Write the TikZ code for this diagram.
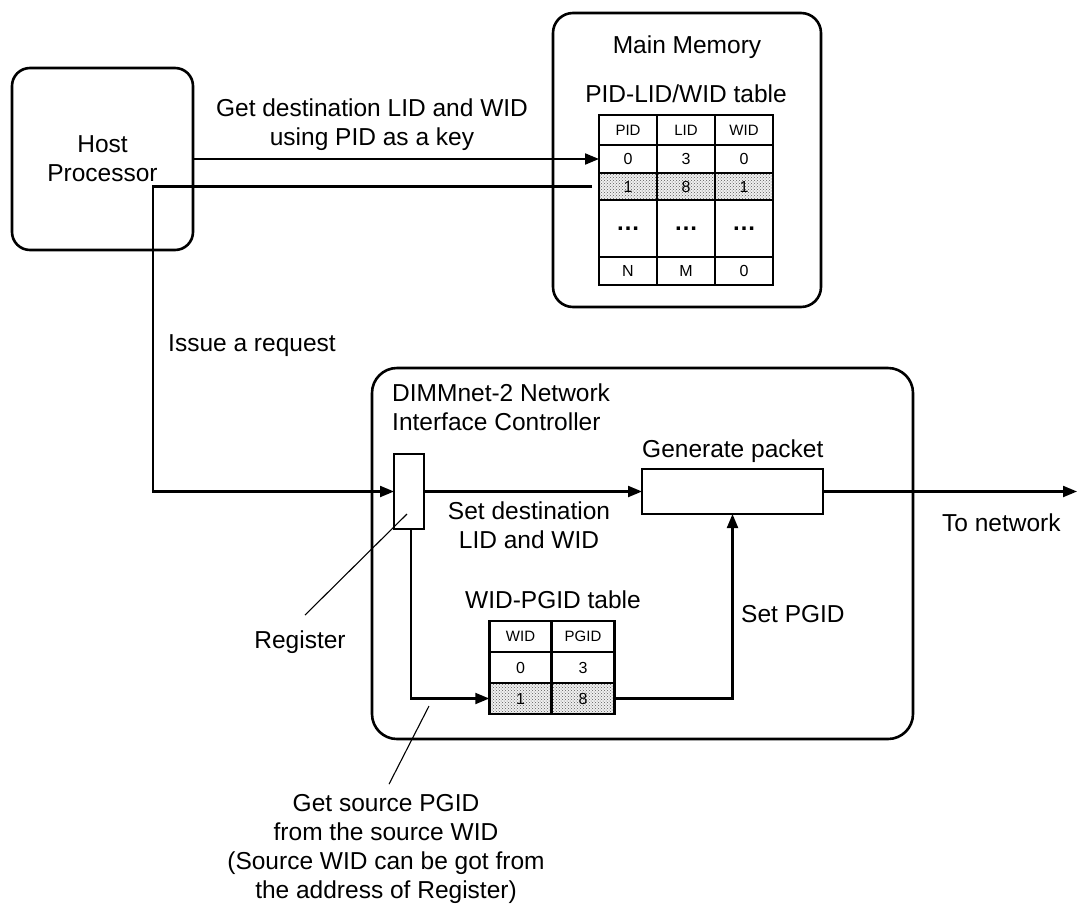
\documentclass[tikz,border=0pt]{standalone}
\usepackage{fontspec}
\setmainfont{Liberation Sans}
\usepackage{tikz}
\usetikzlibrary{shapes,arrows.meta,patterns}
\usetikzlibrary{positioning}
\newcommand{\tabheadfont}{\fontsize{15}{15}\selectfont}
\newcommand{\tabcellfont}{\fontsize{16}{16}\selectfont}
\newcommand{\tabdotsfont}{\fontsize{24}{24}\selectfont\bfseries}
\tikzstyle{block} = [rectangle, draw, line width=2.6pt, inner sep=0pt, outer sep=0pt]
\tikzstyle{block_rounded} = [rectangle, draw, line width=2.6pt, rounded corners=18pt,
    inner sep=0pt, outer sep=0pt]
\tikzstyle{cell} = [rectangle, draw, line width=2.6pt, inner sep=0pt, outer sep=0pt,
    minimum width=58pt, minimum height=28pt, font=\tabcellfont]
\tikzstyle{cell_shaded} = [cell, preaction={fill=gray!12}, pattern=crosshatch dots, pattern color=black!65]
\tikzstyle{txt} = [inner sep=0pt, align=center]
\tikzstyle{line} = [draw, -{Triangle[length=14pt,width=11pt]}, line width=2.1pt]
\tikzstyle{leader} = [draw, line width=1.1pt]

\begin{document}
\begin{tikzpicture}[x=1pt, y=-1pt, font=\fontsize{24.5}{29}\selectfont]
    \useasboundingbox (0,0) rectangle (1078,908);
    % Place nodes
    \node [block_rounded, minimum width=181pt, minimum height=182pt, align=center] (host) at (102.5,159) {Host\\Processor};
    \node [txt] (getdest) at (372,124.5) {Get destination LID and WID\\using PID as a key};

    \node [block_rounded, rounded corners=20pt, minimum width=268pt, minimum height=294pt] (mem) at (687,160) {};
    \node [txt, anchor=base] (memtitle) at (687,53) {Main Memory};
    \node [txt, anchor=base] (pidtitle) at (686,102) {PID-LID/WID table};

    % PID-LID/WID table
    \node [cell, minimum height=30pt, font=\tabheadfont] (pid_head) at (628,130) {PID};
    \node [cell, minimum height=30pt, font=\tabheadfont, right=0pt of pid_head] (lid_head) {LID};
    \node [cell, minimum height=30pt, font=\tabheadfont, right=0pt of lid_head] (wid_head) {WID};
    \node [cell, below=0pt of pid_head] (pid_r0) {0};
    \node [cell, below=0pt of lid_head] (lid_r0) {3};
    \node [cell, below=0pt of wid_head] (wid_r0) {0};
    \node [cell_shaded, minimum height=27pt, below=0pt of pid_r0] (pid_r1) {1};
    \node [cell_shaded, minimum height=27pt, below=0pt of lid_r0] (lid_r1) {8};
    \node [cell_shaded, minimum height=27pt, below=0pt of wid_r0] (wid_r1) {1};
    \node [cell, minimum height=57pt, font=\tabdotsfont, below=0pt of pid_r1] (pid_dots) {…};
    \node [cell, minimum height=57pt, font=\tabdotsfont, below=0pt of lid_r1] (lid_dots) {…};
    \node [cell, minimum height=57pt, font=\tabdotsfont, below=0pt of wid_r1] (wid_dots) {…};
    \node [cell, below=0pt of pid_dots] (pid_rn) {N};
    \node [cell, below=0pt of lid_dots] (lid_rn) {M};
    \node [cell, below=0pt of wid_dots] (wid_rn) {0};

    \node [txt, anchor=base west] (issue) at (168,351) {Issue a request};

    \node [block_rounded, rounded corners=25pt, minimum width=541pt, minimum height=371pt] (nic) at (642.5,553.5) {};
    \node [txt, align=left, anchor=west] (nictitle) at (392,407) {DIMMnet-2 Network\\Interface Controller};
    \node [block, minimum width=30pt, minimum height=75pt] (reg) at (409,491.5) {};
    \node [block, minimum width=181pt, minimum height=45pt] (gen) at (732.5,491.5) {};
    \node [txt, anchor=base west] (gentitle) at (642,457) {Generate packet};
    \node [txt] (setdest) at (529,525.5) {Set destination\\LID and WID};
    \node [txt, anchor=base] (wtitle) at (553,608) {WID-PGID table};

    % WID-PGID table
    \node [cell, minimum width=62.5pt, minimum height=31pt, font=\tabheadfont] (w_wid_head) at (520.5,636.5) {WID};
    \node [cell, minimum width=62.5pt, minimum height=31pt, font=\tabheadfont, right=0pt of w_wid_head] (w_pgid_head) {PGID};
    \node [cell, minimum width=62.5pt, minimum height=31pt, below=0pt of w_wid_head] (w_wid_r0) {0};
    \node [cell, minimum width=62.5pt, minimum height=31pt, below=0pt of w_pgid_head] (w_pgid_r0) {3};
    \node [cell_shaded, minimum width=62.5pt, minimum height=31pt, below=0pt of w_wid_r0] (w_wid_r1) {1};
    \node [cell_shaded, minimum width=62.5pt, minimum height=31pt, below=0pt of w_pgid_r0] (w_pgid_r1) {8};

    \node [txt, anchor=base west] (setpgid) at (741,622) {Set PGID};
    \node [txt, anchor=base west] (tonet) at (942,531) {To network};
    \node [txt, anchor=base] (reglabel) at (300,648) {Register};
    \node [txt] (srcnote) at (386,849) {Get source PGID\\from the source WID\\(Source WID can be got from\\the address of Register)};

    \coordinate (turn) at (153,491.5);
    \coordinate (net) at (1077,491.5);
    \coordinate (regpt) at (407,514);
    \coordinate (wpt) at (429,706);

    % Draw edges
    \path [line] (host.east) -- (pid_r0.west);
    \path [line] ([xshift=-7pt]pid_r1.west) -| (turn) -- (reg.west);
    \path [line] (reg.east) -- (gen.west);
    \path [line] (gen.east) -- (net);
    \path [line] ([xshift=2pt]reg.south) |- (w_wid_r1.west);
    \path [line] (w_pgid_r1.east) -| (gen.south);
    \path [leader] ([xshift=5pt,yshift=15pt]reglabel.north) -- (regpt);
    \path [leader] ([xshift=3pt,yshift=10pt]srcnote.north) -- (wpt);

\end{tikzpicture}
\end{document}
